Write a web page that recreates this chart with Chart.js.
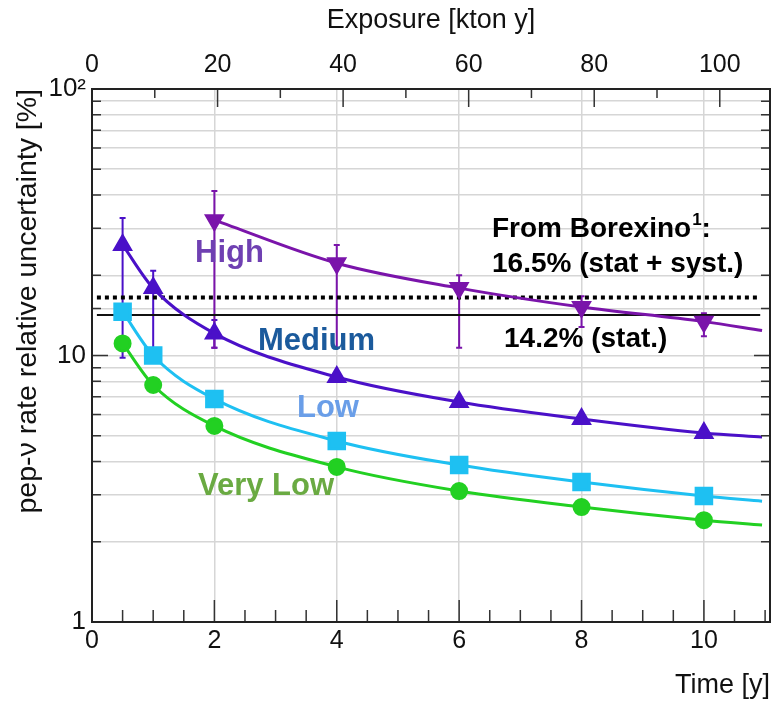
<!DOCTYPE html>
<html>
<head>
<meta charset="utf-8">
<script src="https://cdn.jsdelivr.net/npm/chart.js@4.4.1/dist/chart.umd.min.js"></script>
<style>
  body { margin: 0; background: #fff; }
  canvas { display: block; }
</style>
</head>
<body>
<canvas id="chart" width="773" height="702"></canvas>
<script>
// measured points, time in years
const timeYears = [0.5, 1, 2, 4, 6, 8, 10];
const highTimes = [2, 4, 6, 8, 10];
const curveEndTime = 10.95;

const veryLow = [11.1, 7.75, 5.44, 3.82, 3.10, 2.70, 2.41];
const low = [14.6, 10.0, 6.87, 4.78, 3.88, 3.35, 2.97];
const medium = [26.0, 17.9, 12.1, 8.3, 6.69, 5.78, 5.12];
const high = [32.2, 22.2, 17.9, 15.2, 13.4];

// where the fitted curves leave the frame
const veryLowEnd = 2.31;
const lowEnd = 2.84;
const mediumEnd = 4.94;
const highEnd = 12.4;

// error bars (upper, lower)
const mediumErrUp = [32.8, 20.8, 13.6];
const mediumErrDown = [9.8, 9.4, 10.7];
const highErrUp = [41.4, 26.0, 20.0, 16.7, 14.4];
const highErrDown = [10.7, 10.7, 10.7, 12.8, 11.8];

// Borexino reference values
const borexinoTotal = 16.5;
const borexinoStat = 14.2;
const refLineSpan = [0.08, 10.92];

const yTickLabels = { 1: "1", 10: "10", 100: "10\u00b2" };

const FONT = "'Liberation Sans', Arial, sans-serif";

function curve(times, vals, endVal) {
    return times.map((t, i) => ({ x: t, y: vals[i] })).concat([{ x: curveEndTime, y: endVal }]);
}
function radii(n, r) {
    const out = [];
    for (let i = 0; i < n; i++) out.push(r);
    out.push(0);
    return out;
}
function isDecade(v) {
    const l = Math.log10(v);
    return Math.abs(l - Math.round(l)) < 1e-9;
}
function isMultiple(v, step) {
    return Math.abs(v / step - Math.round(v / step)) < 1e-6;
}
function fixBox(size) {
    return s => {
        if (s.isHorizontal()) s.height = size; else s.width = size;
        s.paddingLeft = 0; s.paddingRight = 0;
        s.paddingTop = 0; s.paddingBottom = 0;
    };
}

const errorBars = {
    id: "errorBars",
    beforeDatasetsDraw(chart) {
        const { ctx, scales } = chart;
        const sets = [
            { times: timeYears, up: mediumErrUp, down: mediumErrDown, color: "#4a10c8" },
            { times: highTimes, up: highErrUp, down: highErrDown, color: "#7a14aa" }
        ];
        ctx.save();
        ctx.lineWidth = 2;
        sets.forEach(s => {
            ctx.strokeStyle = s.color;
            s.up.forEach((u, i) => {
                const px = scales.x.getPixelForValue(s.times[i]);
                const pu = scales.y.getPixelForValue(u);
                const pd = scales.y.getPixelForValue(s.down[i]);
                ctx.beginPath();
                ctx.moveTo(px, pu); ctx.lineTo(px, pd);
                ctx.moveTo(px - 3, pu); ctx.lineTo(px + 3, pu);
                ctx.moveTo(px - 3, pd); ctx.lineTo(px + 3, pd);
                ctx.stroke();
            });
        });
        ctx.restore();
    }
};

const frameAndTicks = {
    id: "frameAndTicks",
    afterDraw(chart) {
        const { ctx, chartArea: a, scales } = chart;
        ctx.save();
        ctx.strokeStyle = "#333";
        ctx.lineWidth = 1.5;
        ctx.beginPath();
        scales.y.ticks.forEach(t => {
            const py = scales.y.getPixelForValue(t.value);
            const len = isDecade(t.value) ? 16 : 9;
            ctx.moveTo(a.left, py); ctx.lineTo(a.left + len, py);
            ctx.moveTo(a.right, py); ctx.lineTo(a.right - len, py);
        });
        scales.x.ticks.forEach(t => {
            const px = scales.x.getPixelForValue(t.value);
            const len = isMultiple(t.value, 2) ? 22 : 12;
            ctx.moveTo(px, a.bottom); ctx.lineTo(px, a.bottom - len);
        });
        scales.x2.ticks.forEach(t => {
            const px = scales.x2.getPixelForValue(t.value);
            const len = isMultiple(t.value, 20) ? 18 : 9;
            ctx.moveTo(px, a.top); ctx.lineTo(px, a.top + len);
        });
        ctx.stroke();
        ctx.lineWidth = 2;
        ctx.strokeStyle = "#222";
        ctx.strokeRect(a.left, a.top, a.right - a.left, a.bottom - a.top);
        ctx.restore();
    }
};

const annotations = {
    id: "annotations",
    afterDatasetsDraw(chart) {
        const ctx = chart.ctx;
        ctx.save();
        ctx.textBaseline = "alphabetic";
        ctx.textAlign = "left";
        ctx.font = "bold 31px " + FONT;
        ctx.fillStyle = "#6f40b2"; ctx.fillText("High", 195, 262);
        ctx.fillStyle = "#1b5a9c"; ctx.fillText("Medium", 258, 350);
        ctx.fillStyle = "#6a9ee8"; ctx.fillText("Low", 297, 417);
        ctx.fillStyle = "#6aaa42"; ctx.fillText("Very Low", 198, 495);

        ctx.fillStyle = "#000";
        ctx.font = "bold 28px " + FONT;
        const t1 = "From Borexino";
        ctx.fillText(t1, 492, 237);
        let w = ctx.measureText(t1).width;
        ctx.font = "bold 17px " + FONT;
        ctx.fillText("1", 492 + w + 1, 225);
        w += ctx.measureText("1").width + 1;
        ctx.font = "bold 28px " + FONT;
        ctx.fillText(":", 492 + w, 237);
        ctx.fillText("16.5% (stat + syst.)", 492, 272);
        ctx.fillText("14.2% (stat.)", 504, 347);
        ctx.restore();
    }
};

const ctx = document.getElementById("chart").getContext("2d");

new Chart(ctx, {
    type: "line",
    data: {
        datasets: [
            {
                label: "High",
                data: curve(highTimes, high, highEnd),
                borderColor: "#7a14aa",
                backgroundColor: "#7a14aa",
                borderWidth: 3,
                pointStyle: "triangle",
                rotation: 180,
                pointRadius: radii(highTimes.length, 9)
            },
            {
                label: "Medium",
                data: curve(timeYears, medium, mediumEnd),
                borderColor: "#4a10c8",
                backgroundColor: "#4a10c8",
                borderWidth: 3,
                pointStyle: "triangle",
                pointRadius: radii(timeYears.length, 9)
            },
            {
                label: "Low",
                data: curve(timeYears, low, lowEnd),
                borderColor: "#1ec0f2",
                backgroundColor: "#1ec0f2",
                borderWidth: 3,
                pointStyle: "rect",
                pointRadius: radii(timeYears.length, 11)
            },
            {
                label: "Very Low",
                data: curve(timeYears, veryLow, veryLowEnd),
                borderColor: "#22d022",
                backgroundColor: "#22d022",
                borderWidth: 3,
                pointStyle: "circle",
                pointRadius: radii(timeYears.length, 7.5)
            },
            {
                label: "Borexino stat + syst",
                data: refLineSpan.map(x => ({ x, y: borexinoTotal })),
                borderColor: "#000",
                borderWidth: 4,
                borderDash: [4, 4],
                pointRadius: 0
            },
            {
                label: "Borexino stat",
                data: refLineSpan.map(x => ({ x, y: borexinoStat })),
                borderColor: "#111",
                borderWidth: 2,
                pointRadius: 0
            }
        ]
    },
    options: {
        responsive: false,
        animation: false,
        devicePixelRatio: 1,
        layout: { autoPadding: false, padding: { left: 0, right: 3, top: 0, bottom: 0 } },
        plugins: {
            legend: { display: false },
            tooltip: { enabled: false }
        },
        elements: {
            line: { cubicInterpolationMode: "monotone" },
            point: { borderWidth: 0 }
        },
        scales: {
            x: {
                type: "linear",
                position: "bottom",
                min: 0,
                max: 11.08,
                afterFit: fixBox(80),
                ticks: {
                    stepSize: 0.5,
                    includeBounds: false,
                    autoSkip: false,
                    maxRotation: 0,
                    padding: 4,
                    color: "#111",
                    font: { family: FONT, size: 25 },
                    callback: v => (isMultiple(v, 2) ? String(v) : "")
                },
                grid: {
                    drawTicks: false,
                    lineWidth: 1.5,
                    color: c => {
                        const v = c.tick ? c.tick.value : 0;
                        return isMultiple(v, 2) && v > 0 ? "#d6d6d6" : "rgba(0,0,0,0)";
                    }
                },
                border: { display: false },
                title: {
                    display: true,
                    text: "Time [y]",
                    align: "end",
                    color: "#111",
                    font: { family: FONT, size: 27 },
                    padding: { top: 0, bottom: 0 }
                }
            },
            x2: {
                type: "linear",
                position: "top",
                min: 0,
                max: 108,
                afterFit: fixBox(89),
                ticks: {
                    stepSize: 10,
                    includeBounds: false,
                    autoSkip: false,
                    maxRotation: 0,
                    padding: 9,
                    color: "#111",
                    font: { family: FONT, size: 25 },
                    callback: v => (isMultiple(v, 20) ? String(v) : "")
                },
                grid: { display: false, drawTicks: false },
                border: { display: false },
                title: {
                    display: true,
                    text: "Exposure [kton y]",
                    color: "#111",
                    font: { family: FONT, size: 27 },
                    padding: { top: 4, bottom: 0 }
                }
            },
            y: {
                type: "logarithmic",
                position: "left",
                min: 1,
                max: 100,
                afterFit: fixBox(92),
                ticks: {
                    autoSkip: false,
                    padding: 6,
                    color: "#111",
                    font: { family: FONT, size: 26 },
                    callback: v => (isDecade(v) ? yTickLabels[Math.round(v)] : "")
                },
                grid: {
                    drawTicks: false,
                    lineWidth: 1.5,
                    color: c => {
                        const v = c.tick ? c.tick.value : 1;
                        return v > 1 && v < 100 ? "#d6d6d6" : "rgba(0,0,0,0)";
                    }
                },
                border: { display: false },
                title: {
                    display: true,
                    text: "pep-\u03bd rate relative uncertainty [%]",
                    align: "end",
                    color: "#111",
                    font: { family: FONT, size: 28.5 },
                    padding: { top: 11, bottom: 0 }
                }
            }
        }
    },
    plugins: [errorBars, frameAndTicks, annotations]
});
</script>
</body>
</html>
